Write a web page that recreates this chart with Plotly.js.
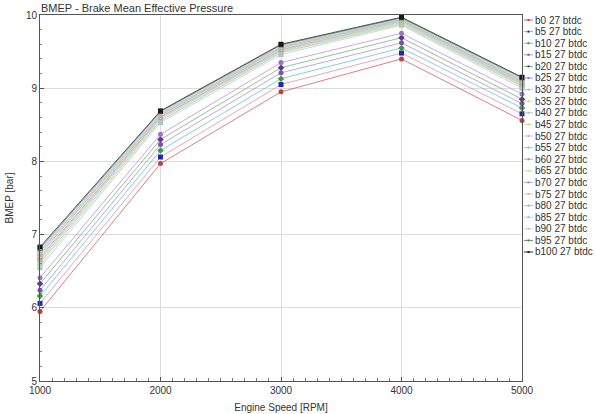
<!DOCTYPE html>
<html>
<head>
<meta charset="utf-8">
<script src="https://cdn.plot.ly/plotly-3.0.1.min.js"></script>
<style>html,body{margin:0;padding:0;background:#fff;}#chart{width:595px;height:414px;}</style>
</head>
<body>
<div id="chart"></div>
<script>
// ---- data ----
const speeds = [1000, 2000, 3000, 4000, 5000];
const seriesNames = ["b0 27 btdc","b5 27 btdc","b10 27 btdc","b15 27 btdc","b20 27 btdc","b25 27 btdc","b30 27 btdc","b35 27 btdc","b40 27 btdc","b45 27 btdc","b50 27 btdc","b55 27 btdc","b60 27 btdc","b65 27 btdc","b70 27 btdc","b75 27 btdc","b80 27 btdc","b85 27 btdc","b90 27 btdc","b95 27 btdc","b100 27 btdc"];
const b0   = [5.95, 7.97, 8.95, 9.40, 8.56];
const b5   = [6.06, 8.06, 9.05, 9.48, 8.65];
const b10  = [6.16, 8.15, 9.13, 9.55, 8.73];
const b15  = [6.24, 8.23, 9.21, 9.62, 8.79];
const b20  = [6.33, 8.30, 9.28, 9.69, 8.85];
const b25  = [6.41, 8.37, 9.35, 9.75, 8.92];
const b30  = [6.55, 8.53, 9.46, 9.86, 9.00];
const b35  = [6.58, 8.55, 9.48, 9.87, 9.02];
const b40  = [6.61, 8.56, 9.49, 9.88, 9.03];
const b45  = [6.63, 8.58, 9.50, 9.89, 9.04];
const b50  = [6.65, 8.59, 9.51, 9.90, 9.05];
const b55  = [6.67, 8.60, 9.52, 9.91, 9.06];
const b60  = [6.69, 8.61, 9.53, 9.92, 9.07];
const b65  = [6.71, 8.62, 9.54, 9.92, 9.08];
const b70  = [6.73, 8.63, 9.55, 9.93, 9.09];
const b75  = [6.75, 8.64, 9.56, 9.94, 9.10];
const b80  = [6.77, 8.65, 9.57, 9.94, 9.11];
const b85  = [6.78, 8.66, 9.57, 9.95, 9.12];
const b90  = [6.80, 8.67, 9.58, 9.96, 9.13];
const b95  = [6.81, 8.68, 9.59, 9.96, 9.14];
const b100 = [6.83, 8.69, 9.60, 9.97, 9.15];
const seriesValues = [b0,b5,b10,b15,b20,b25,b30,b35,b40,b45,b50,b55,b60,b65,b70,b75,b80,b85,b90,b95,b100];
const yTicks = [5, 6, 7, 8, 9, 10];
const xTicks = [1000, 2000, 3000, 4000, 5000];

// ---- styles ----
const colors = ["#c04040","#2424b8","#3c9a3c","#8050a8","#5a3a80","#a070c8","#90c8d0","#d8d890","#a8bcd0","#c8d890","#b8b8b8","#90c0c0","#b08898","#e0d888","#8898b8","#d8b0b0","#a0b0d0","#a8c0e0","#c0c0c0","#4a8a4a","#1a1a1a"];
const lineColors = ["#d06060","#e090b0","#60c8d0","#b090d0","#70b870","#c090d8","#a8d8e0","#e0e0a0","#b8c8e0","#d0e0a0","#c8c8c8","#a0d0d0","#c8a0b0","#e8e098","#a0b0d0","#e0c0c0","#b0c0e0","#b8d0e8","#d0d0d0","#5a9a5a","#2a2a2a"];
const symbols = ["circle","square","diamond","circle","diamond","circle","square","circle","square","diamond","circle","square","circle","diamond","circle","square","circle","diamond","circle","square","square"];

const L = 40, R = 522, T = 15, B = 381, W = 595, H = 414;
const px = x => (x - L) / (R - L);
const py = y => (B - y) / (B - T);

const traces = seriesNames.map((n, i) => ({
  type: 'scatter', mode: 'lines+markers', name: n,
  x: speeds, y: seriesValues[i],
  line: {color: lineColors[i], width: 0.8},
  marker: {color: colors[i], size: 5, symbol: symbols[i]},
  showlegend: false, cliponaxis: false
}));

const annotations = [];
const shapes = [];
seriesNames.forEach((n, i) => {
  const yy = 20 + i * 11.6;
  annotations.push({xref:'paper', yref:'paper', x: px(533), y: py(yy), xanchor:'left', yanchor:'middle',
    text: n, showarrow:false, font:{family:'Liberation Sans, Arial', size:10, color:'#333'}});
  shapes.push({type:'line', xref:'paper', yref:'paper', x0: px(524), x1: px(533), y0: py(yy), y1: py(yy),
    line:{color: lineColors[i], width:1}});
  shapes.push({type:'rect', xref:'paper', yref:'paper', x0: px(527.5), x1: px(529.5), y0: py(yy+1), y1: py(yy-1),
    line:{width:0}, fillcolor: colors[i]});
});

const layout = {
  width: W, height: H,
  margin: {l: L, r: W - R, t: T, b: H - B, pad: 0},
  paper_bgcolor: '#fff', plot_bgcolor: '#fff',
  font: {family: 'Liberation Sans, Arial', size: 10, color: '#333'},
  showlegend: false,
  xaxis: {
    range: [1000, 5000], tickvals: xTicks, ticktext: xTicks.map(String),
    showgrid: true, gridcolor: '#dcdcdc', gridwidth: 1,
    showline: true, linecolor: '#555', linewidth: 1, mirror: true,
    ticks: 'inside', ticklen: 4, tickcolor: '#555',
    minor: {dtick: 100, ticks: 'inside', ticklen: 3, tickcolor: '#777', showgrid: false},
    zeroline: false, tickfont: {size: 10, color: '#333'},
    title: {text: 'Engine Speed [RPM]', font: {size: 10, color: '#333'}, standoff: 8}
  },
  yaxis: {
    range: [5, 10], tickvals: yTicks, ticktext: yTicks.map(String),
    showgrid: true, gridcolor: '#dcdcdc', gridwidth: 1,
    showline: true, linecolor: '#555', linewidth: 1, mirror: true,
    ticks: 'inside', ticklen: 4, tickcolor: '#555',
    minor: {dtick: 0.2, ticks: 'inside', ticklen: 2, tickcolor: '#888', showgrid: false},
    zeroline: false, tickfont: {size: 10, color: '#333'},
    title: {text: 'BMEP [bar]', font: {size: 10, color: '#333'}, standoff: 10}
  },
  title: {text: 'BMEP - Brake Mean Effective Pressure', font: {size: 11, color: '#333'},
    x: px(41), xanchor: 'left', xref: 'paper', y: 1 - 8 / H, yanchor: 'middle'},
  annotations: annotations,
  shapes: shapes
};

Plotly.newPlot('chart', traces, layout, {displayModeBar: false, staticPlot: true});
</script>
</body>
</html>
